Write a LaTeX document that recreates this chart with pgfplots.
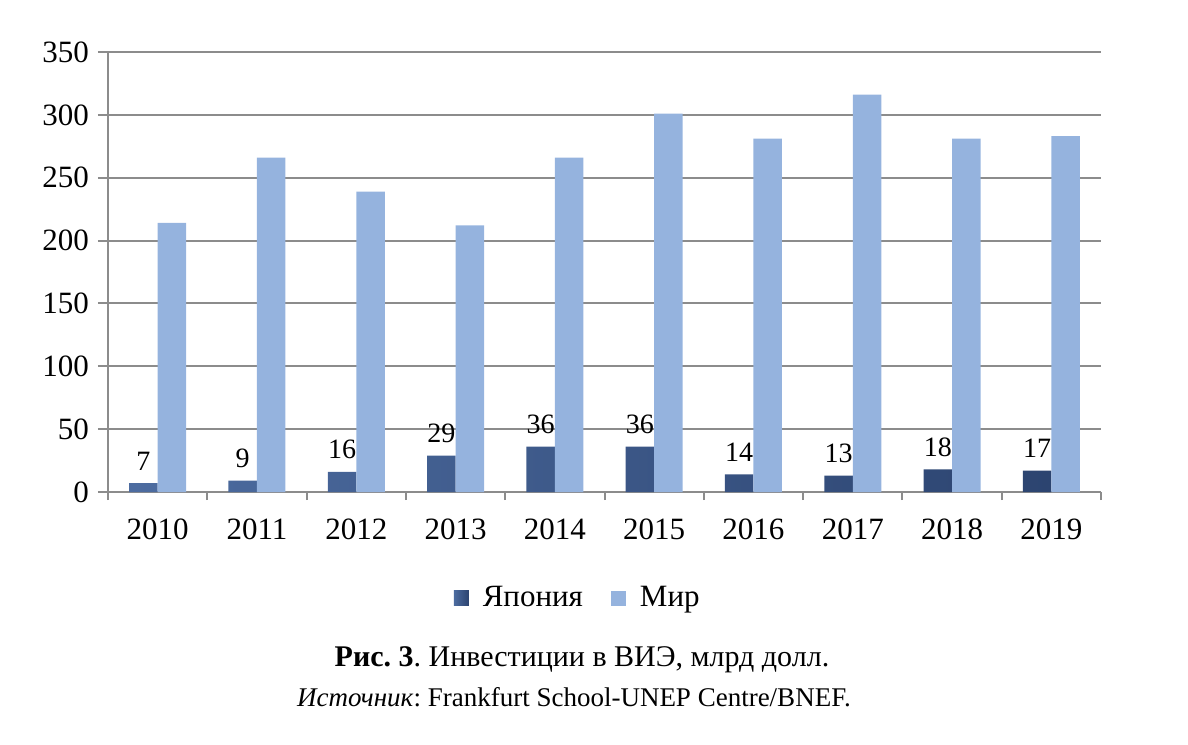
\documentclass[border=0pt]{standalone}
\usepackage{fontspec}
\setmainfont{Liberation Serif}
\usepackage{pgfplots}
\pgfplotsset{compat=1.18}
\definecolor{japdark}{HTML}{2C4470}
\definecolor{japlight}{HTML}{4D6CA0}
\definecolor{world}{HTML}{95B3DE}
\definecolor{gridc}{HTML}{8C8C8C}
\frenchspacing
\begin{document}
\begin{tikzpicture}
\useasboundingbox (-54pt,-126pt) rectangle (540pt,246pt);
\begin{axis}[
  at={(0,0)}, anchor=south west,
  scale only axis, width=496.5pt, height=220pt,
  ybar,
  xmin=-0.5, xmax=9.5, ymin=0, ymax=350,
  xtick={0,...,9},
  xticklabels={2010,2011,2012,2013,2014,2015,2016,2017,2018,2019},
  minor xtick={-0.5,0.5,...,9.5},
  ytick={0,50,...,350},
  axis x line*=bottom, axis y line*=left,
  axis line style={gridc, line width=1pt},
  tick align=outside,
  major tick length=5pt, minor tick length=4pt,
  major x tick style={draw=none},
  every tick/.style={gridc, line width=1pt},
  minor x tick style={gridc, line width=1pt},
  ymajorgrids, grid style={gridc, line width=1pt},
  /pgf/number format/assume math mode=true,
  tick label style={font=\fontsize{15.5}{18}\selectfont},
  xticklabel style={yshift=-5pt},
  yticklabel style={xshift=-1pt},
  legend style={draw=none, at={(0.474,-0.241)}, anchor=center,
    legend columns=2, font=\fontsize{15.5}{18}\selectfont,
    /tikz/every odd column/.append style={column sep=5pt},
    /tikz/every even column/.append style={column sep=12pt}},
  legend image code/.code={\path[#1,draw=none] (0pt,-3.75pt) rectangle (7.5pt,3.75pt);},
]
\addplot[bar width=14.25pt, bar shift=-7.125pt, draw=none,
  left color=japlight, right color=japdark,
  nodes near coords,
  nodes near coords style={font=\fontsize{14}{16}\selectfont, text=black, yshift=3pt}]
  coordinates {(0,7) (1,9) (2,16) (3,29) (4,36) (5,36) (6,14) (7,13) (8,18) (9,17)};
\addlegendentry{Япония}
\addplot[bar width=14.25pt, bar shift=7.125pt, draw=none, fill=world]
  coordinates {(0,214) (1,266) (2,239) (3,212) (4,266) (5,301) (6,281) (7,316) (8,281) (9,283)};
\addlegendentry{Мир}
\end{axis}
\node[font=\fontsize{15}{17}\selectfont] at (237pt,-84pt) {\textbf{Рис. 3}. Инвестиции в ВИЭ, млрд долл.};
\node[font=\fontsize{13.5}{15}\selectfont] at (233pt,-102.5pt) {\textit{Источник}: Frankfurt School-UNEP Centre/BNEF.};
\end{tikzpicture}
\end{document}
